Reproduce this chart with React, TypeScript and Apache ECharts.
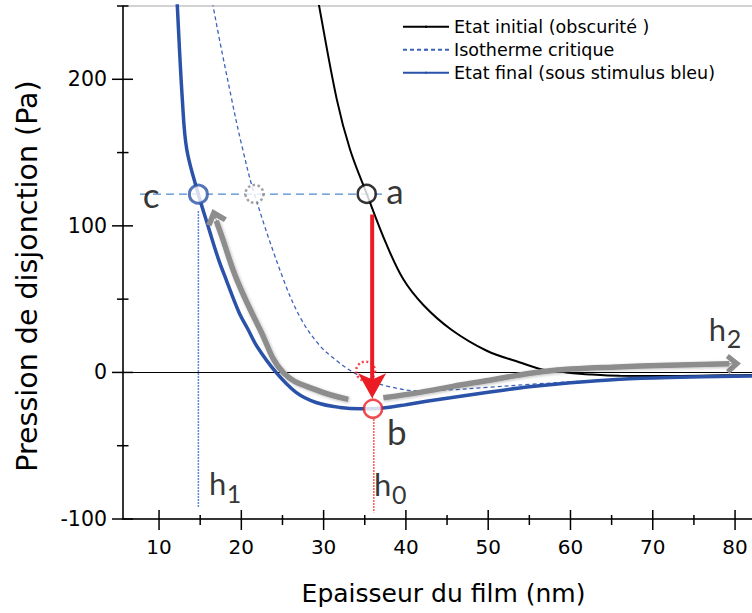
import React, { useEffect, useRef } from 'react';
import * as echarts from 'echarts';

// ---------- axes ----------
const X_MIN = 5.62;
const X_MAX = 85;
const Y_MIN = -100;
const Y_MAX = 250;
const X_MAJOR = [10, 20, 30, 40, 50, 60, 70, 80];
const X_MINOR = [15, 25, 35, 45, 55, 65, 75];
const Y_MAJOR = [-100, 0, 100, 200];
const Y_MINOR = [-50, 50, 150, 250];

const X_TITLE = 'Epaisseur du film (nm)';
const Y_TITLE = 'Pression de disjonction (Pa)';

// ---------- series ----------
const SERIES_NAMES = ['Etat initial (obscurité )', 'Isotherme critique', 'Etat final (sous stimulus bleu)'];

const INITIAL_X = [29.1, 29.44, 31.6, 33.21, 35.24, 37.59, 39.69, 42.12, 45.49, 49.82, 53.87, 56.7, 59.5, 62.4, 66.0, 73.3, 81.8, 85];
const INITIAL_Y = [262, 250.4, 186.3, 152.1, 121.8, 88, 63.5, 46, 29.3, 14.8, 6.8, 1.8, 0, -1.4, -2.3, -2.4, -1.7, -1.5];

const CRITICAL_X = [16.4, 16.56, 18.83, 20.05, 21.58, 25.11, 27.3, 29.6, 31.6, 33.6, 35.5, 37.67, 41.5, 45, 50, 55, 60, 65, 70, 75, 80, 85];
const CRITICAL_Y = [262, 250.4, 186.3, 155, 121.8, 63.5, 36, 17.9, 8.0, 0, -5.2, -9.3, -12.6, -12.0, -10.2, -8.2, -6.4, -5.0, -4.0, -3.3, -2.8, -2.4];

const FINAL_X = [12.15, 12.22, 12.83, 13.37, 14.78, 16.08, 17.23, 18.14, 19.72, 20.82, 21.91, 24.22, 26.65, 29.08, 32.0, 34.5, 36.0, 38, 40, 42.5, 45.4, 50, 55, 60, 66, 72, 80, 85];
const FINAL_Y = [262, 250.4, 186.3, 152.1, 121.5, 97.6, 77.1, 63.5, 40.9, 29.3, 17.7, 0, -13.6, -20.5, -23.9, -24.8, -24.8, -23.8, -22, -19.7, -17.3, -13.5, -9.8, -7, -4.6, -3.4, -2.6, -2.3];

// ---------- annotations ----------
const HLINE_X = [7.68, 37.3];
const HLINE_Y = [121.6, 121.6];
const VLINE_H1_X = [14.78, 14.78];
const VLINE_H1_Y = [110, -92];
const VLINE_H0_X = [36.1, 36.1];
const VLINE_H0_Y = [-32, -95.5];

const GREY_ARROW1_X = [33.0, 29.17, 25.1, 22.27, 19.44, 17.62, 16.95];
const GREY_ARROW1_Y = [-18.4, -12.1, -0.2, 29.3, 63.5, 93.0, 103.5];
const GREY_ARROW1_TIP = [16.81, 106.3];
const GREY_ARROW2_X = [37.26, 41.72, 45.7, 50.2, 53.5, 56.7, 60, 65, 72, 79.3];
const GREY_ARROW2_Y = [-17.3, -13.6, -9.5, -5.3, -2.0, 0.6, 2.3, 3.6, 4.9, 5.85];
const GREY_ARROW2_TIP = [79.8, 5.9];
const RED_ARROW_X = [35.9, 35.9];
const RED_ARROW_Y = [107.8, -8];
const RED_ARROW_TIP = [35.9, -17.7];

// circles: c, critical (grey dotted), a, b
const CIRCLE_X = [14.78, 21.6, 35.24, 36.0];
const CIRCLE_Y = [121.6, 121.8, 121.8, -24.8];
const RED_DOTTED_X = [35.1];
const RED_DOTTED_Y = [0.9];

const LETTER_TEXT = ['c', 'a', 'b'];
const LETTER_X = [9.03, 38.68, 38.9];
const LETTER_Y = [121.8, 124.5, -39.9];
const H_TEXT = ['h', 'h', 'h'];
const H_X = [17.11, 37.16, 77.87];
const H_Y = [-75.4, -76.4, 29.3];
const SUB_TEXT = ['1', '0', '2'];
const SUB_X = [19.1, 39.2, 79.87];
const SUB_Y = [-82.6, -82.9, 23.2];

// ---------- styles ----------
const FONT = 'DejaVu Sans';
const ANNOT_FONT = 'Lato';
const BLUE = '#2a52a8';
const DASH_BLUE = '#3d63b8';
const RED = '#ec1c24';
const GREY = '#8d8d8d';
const CHEVRON = 'path://M0,11 L10,0 L20,11 L16,14 L10,7.5 L4,14 Z';

const zip = (xs: number[], ys: number[]) => xs.map((x, i) => [x, ys[i]]);

function labelSeries(name: string, xs: number[], ys: number[], texts: string[], size: number) {
  return {
    name, type: 'scatter', z: 9, symbol: 'circle', symbolSize: 1, silent: true,
    itemStyle: { color: 'rgba(0,0,0,0)' },
    data: xs.map((x, i) => ({
      value: [x, ys[i]],
      label: { formatter: texts[i] },
    })),
    label: {
      show: true, position: 'inside', color: '#000', fontFamily: ANNOT_FONT,
      fontSize: size, textBorderWidth: 0, align: 'center', verticalAlign: 'middle',
    },
  };
}

const circleStyles = [
  { color: '#fff', borderColor: BLUE, borderWidth: 3, borderType: 'solid' },
  { color: '#fff', borderColor: '#8a8a8a', borderWidth: 2.5, borderType: 'dotted' },
  { color: '#fff', borderColor: '#000', borderWidth: 2.5, borderType: 'solid' },
  { color: '#fff', borderColor: RED, borderWidth: 2.5, borderType: 'solid' },
];

// crossing tick marks (major / minor), drawn through the axes' scales
const tickData = (major: number[], minor: number[]) =>
  [...major.map((v) => [v, 1]), ...minor.map((v) => [v, 0])];

const xTickSeries = {
  name: 'x-ticks', type: 'custom', z: 3, silent: true, clip: false,
  data: tickData(X_MAJOR, X_MINOR),
  renderItem: (params: any, api: any) => {
    const major = api.value(1) === 1;
    const p = api.coord([api.value(0), Y_MIN]);
    const inside = major ? 9 : 4;
    const outside = major ? 11 : 6;
    return {
      type: 'line',
      shape: { x1: p[0], y1: p[1] - inside, x2: p[0], y2: p[1] + outside },
      style: { stroke: '#000', lineWidth: 1.5 },
    };
  },
};

const yTickSeries = {
  name: 'y-ticks', type: 'custom', z: 3, silent: true, clip: false,
  data: tickData(Y_MAJOR, Y_MINOR),
  renderItem: (params: any, api: any) => {
    const major = api.value(1) === 1;
    const p = api.coord([X_MIN, api.value(0)]);
    const inside = major ? 10 : 5.5;
    const outside = major ? 11 : 6;
    return {
      type: 'line',
      shape: { x1: p[0] - outside, y1: p[1], x2: p[0] + inside, y2: p[1] },
      style: { stroke: '#000', lineWidth: 1.5 },
    };
  },
};

function arrowHead(from: number[], tip: number[], color: string, symbol: string, size: number[], z: number) {
  return {
    silent: true, symbol: ['none', symbol], symbolSize: size, label: { show: false }, z,
    lineStyle: { color, width: 1, type: 'solid' },
    data: [[{ coord: from }, { coord: tip }]],
  };
}

const greyLine = {
  color: GREY, width: 5.5, shadowColor: 'rgba(0,0,0,0.25)', shadowBlur: 3, shadowOffsetX: 1, shadowOffsetY: 1,
};

const option: any = {
  animation: false,
  backgroundColor: '#fff',
  grid: {
    left: 123, right: -24.2, top: 6, bottom: 94, show: true,
    borderColor: '#a6a6a6', borderWidth: 1, backgroundColor: 'rgba(0,0,0,0)',
    containLabel: false, outerBoundsMode: 'none',
  },
  legend: {
    left: 397, top: 10.7, orient: 'vertical', itemWidth: 46, itemHeight: 3, itemGap: 1,
    selectedMode: false, data: SERIES_NAMES,
    textStyle: { fontFamily: FONT, fontSize: 17.5, color: '#000', lineHeight: 22 },
  },
  xAxis: {
    type: 'value', min: X_MIN, max: X_MAX, position: 'bottom',
    splitLine: { show: false }, axisTick: { show: false },
    axisLine: { show: true, onZero: false, lineStyle: { color: '#000', width: 1.5 } },
    axisLabel: { show: true, customValues: X_MAJOR, fontSize: 20, fontFamily: FONT, color: '#000', margin: 18 },
  },
  yAxis: {
    type: 'value', min: Y_MIN, max: Y_MAX, position: 'left',
    splitLine: { show: false }, axisTick: { show: false },
    axisLine: { show: true, onZero: false, lineStyle: { color: '#000', width: 1.5 } },
    axisLabel: { show: true, customValues: Y_MAJOR, fontSize: 20.5, fontFamily: FONT, color: '#000', margin: 16 },
  },
  graphic: [
    {
      type: 'text', x: 443.5, y: 593, z: 10,
      style: { text: X_TITLE, font: `25px "${FONT}"`, fill: '#000', align: 'center', verticalAlign: 'middle' },
    },
    {
      type: 'text', x: 27, y: 276, rotation: Math.PI / 2, z: 10,
      style: { text: Y_TITLE, font: `28.5px "${FONT}"`, fill: '#000', align: 'center', verticalAlign: 'middle' },
    },
  ],
  series: [
    xTickSeries,
    yTickSeries,
    {
      name: SERIES_NAMES[0], type: 'line', data: zip(INITIAL_X, INITIAL_Y), symbol: 'circle', showSymbol: false, smooth: 0.35, z: 3,
      lineStyle: { color: '#000', width: 2 }, itemStyle: { color: '#000' },
      markLine: {
        silent: true, symbol: ['none', 'none'], label: { show: false }, z: 2,
        lineStyle: { color: '#000', width: 1.2, type: 'solid' }, data: [{ yAxis: 0 }],
      },
    },
    {
      name: SERIES_NAMES[1], type: 'line', data: zip(CRITICAL_X, CRITICAL_Y), symbol: 'circle', showSymbol: false, smooth: 0.35, z: 3,
      lineStyle: { color: DASH_BLUE, width: 1.3, type: [4, 3] }, itemStyle: { color: DASH_BLUE },
    },
    {
      name: SERIES_NAMES[2], type: 'line', data: zip(FINAL_X, FINAL_Y), symbol: 'circle', showSymbol: false, smooth: 0.35, z: 3,
      lineStyle: { color: BLUE, width: 3.5 }, itemStyle: { color: BLUE },
    },
    {
      name: 'hline', type: 'line', data: zip(HLINE_X, HLINE_Y), symbol: 'none', z: 2, silent: true,
      lineStyle: { color: '#4f8ad0', width: 1.3, type: [8, 5] },
    },
    {
      name: 'vline-h1', type: 'line', data: zip(VLINE_H1_X, VLINE_H1_Y), symbol: 'none', z: 2, silent: true,
      lineStyle: { color: '#2f5fd0', width: 1.5, type: [1.5, 1.5] },
    },
    {
      name: 'vline-h0', type: 'line', data: zip(VLINE_H0_X, VLINE_H0_Y), symbol: 'none', z: 2, silent: true,
      lineStyle: { color: '#ff2020', width: 1.5, type: [1.5, 1.5] },
    },
    {
      name: 'grey-arrow-1', type: 'line', data: zip(GREY_ARROW1_X, GREY_ARROW1_Y), symbol: 'none', smooth: 0.4, z: 4, silent: true,
      lineStyle: greyLine,
      markLine: arrowHead([GREY_ARROW1_X[5], GREY_ARROW1_Y[5]], GREY_ARROW1_TIP, GREY, CHEVRON, [22, 16], 4),
    },
    {
      name: 'grey-arrow-2', type: 'line', data: zip(GREY_ARROW2_X, GREY_ARROW2_Y), symbol: 'none', smooth: 0.4, z: 4, silent: true,
      lineStyle: greyLine,
      markLine: arrowHead([GREY_ARROW2_X[8], GREY_ARROW2_Y[8]], GREY_ARROW2_TIP, GREY, CHEVRON, [20, 15], 4),
    },
    {
      name: 'red-dotted', type: 'scatter', z: 5, silent: true, symbol: 'circle', symbolSize: 19,
      data: zip(RED_DOTTED_X, RED_DOTTED_Y),
      itemStyle: { color: 'rgba(0,0,0,0)', borderColor: RED, borderWidth: 2.5, borderType: [2, 2.5] },
    },
    {
      name: 'red-arrow', type: 'line', data: zip(RED_ARROW_X, RED_ARROW_Y), symbol: 'none', z: 6, silent: true,
      lineStyle: { color: RED, width: 4 },
      markLine: arrowHead([RED_ARROW_X[1], RED_ARROW_Y[1]], RED_ARROW_TIP, RED, 'arrow', [21, 25], 6),
    },
    {
      name: 'circles', type: 'scatter', z: 7, silent: true, symbol: 'circle', symbolSize: 18,
      data: CIRCLE_X.map((x, i) => ({ value: [x, CIRCLE_Y[i]], itemStyle: circleStyles[i] })),
    },
    labelSeries('letters', LETTER_X, LETTER_Y, LETTER_TEXT, 35),
    labelSeries('h', H_X, H_Y, H_TEXT, 31),
    labelSeries('sub', SUB_X, SUB_Y, SUB_TEXT, 25),
  ],
};

export default function App() {
  const ref = useRef<HTMLDivElement>(null);
  useEffect(() => {
    if (!ref.current) return;
    const chart = echarts.init(ref.current, null, { renderer: 'svg' });
    chart.setOption(option);
    return () => chart.dispose();
  }, []);
  return (
    <div
      ref={ref}
      style={{ position: 'fixed', left: 0, top: 0, width: 752, height: 613, background: '#fff' }}
    />
  );
}
